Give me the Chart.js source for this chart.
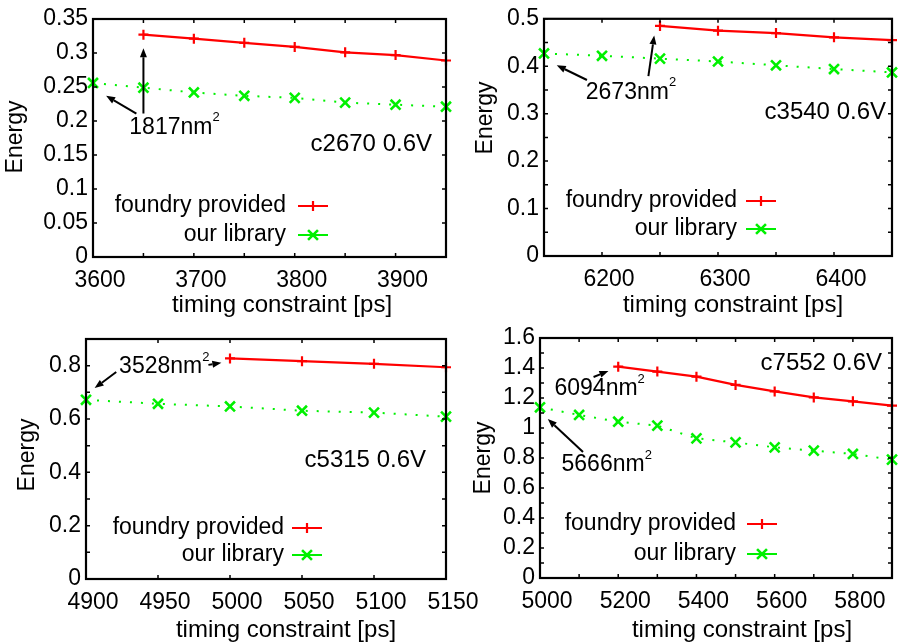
<!DOCTYPE html>
<html>
<head>
<meta charset="utf-8">
<script src="https://cdn.jsdelivr.net/npm/chart.js@4.4.1/dist/chart.umd.min.js"></script>
<style>
  html, body { margin: 0; padding: 0; background: #fff; }
  #wrap { position: relative; width: 902px; height: 644px; overflow: hidden; }
  canvas { position: absolute; left: 0; top: 0; }
</style>
</head>
<body>
<div id="wrap">
  <canvas id="c2670" width="902" height="644"></canvas>
  <canvas id="c3540" width="902" height="644"></canvas>
  <canvas id="c5315" width="902" height="644"></canvas>
  <canvas id="c7552" width="902" height="644"></canvas>
</div>
<script>
const FONT = '"Liberation Sans", Arial, Helvetica, sans-serif';
const RED = '#ff0000';
const GREEN = '#00f000';

const seriesNames = ['foundry provided', 'our library'];

// c2670
const c2670Time = [3600, 3650, 3700, 3750, 3800, 3850, 3900, 3950];
const c2670Foundry = [null, 0.327, 0.321, 0.315, 0.309, 0.301, 0.297, 0.289];
const c2670Ours = [0.256, 0.249, 0.242, 0.237, 0.234, 0.227, 0.224, 0.221];

// c3540
const c3540Time = [6150, 6200, 6250, 6300, 6350, 6400, 6450];
const c3540Foundry = [null, null, 0.485, 0.475, 0.470, 0.461, 0.455];
const c3540Ours = [0.427, 0.422, 0.416, 0.410, 0.402, 0.394, 0.387];

// c5315
const c5315Time = [4900, 4950, 5000, 5050, 5100, 5150];
const c5315Foundry = [null, null, 0.827, 0.817, 0.807, 0.794];
const c5315Ours = [0.672, 0.657, 0.647, 0.631, 0.624, 0.609];

// c7552
const c7552Time = [5000, 5100, 5200, 5300, 5400, 5500, 5600, 5700, 5800, 5900];
const c7552Foundry = [null, null, 1.409, 1.376, 1.342, 1.287, 1.244, 1.204, 1.178, 1.149];
const c7552Ours = [1.138, 1.087, 1.042, 1.016, 0.931, 0.904, 0.871, 0.849, 0.827, 0.789];

const panels = [
  { id: 'c2670', label: 'c2670 0.6V', time: c2670Time, foundry: c2670Foundry, ours: c2670Ours,
    origin: [0, 0], area: [93, 19, 446, 257],
    x: { min: 3600, max: 3950, step: 50, every: 100 }, y: { max: 0.35, step: 0.05, every: 0.05 },
    labelPos: [432, 144], legend: { right: 286, rows: [206, 235], line: [298, 328] },
    xTitle: [282, 305], yTitle: [16, 137],
    notes: [{ x: 3636, y: 0.190, text: '1817nm' }],
    arrows: [{ from: [3650, 0.211], to: [3650, 0.307] }, { from: [3643, 0.211], to: [3613, 0.237] }] },
  { id: 'c3540', label: 'c3540 0.6V', time: c3540Time, foundry: c3540Foundry, ours: c3540Ours,
    origin: [451, 0], area: [93, 16, 446, 256],
    x: { min: 6150, max: 6450, step: 50, every: 100 }, y: { max: 0.5, step: 0.05, every: 0.1 },
    labelPos: [435, 112], legend: { right: 286, rows: [201, 229], line: [295, 325] },
    xTitle: [282, 305], yTitle: [35, 118],
    notes: [{ x: 6186, y: 0.344, text: '2673nm' }],
    arrows: [{ from: [6187, 0.371], to: [6161, 0.402] }, { from: [6240, 0.379], to: [6245, 0.465] }] },
  { id: 'c5315', label: 'c5315 0.6V', time: c5315Time, foundry: c5315Foundry, ours: c5315Ours,
    origin: [0, 322], area: [86, 17, 446, 257],
    x: { min: 4900, max: 5150, step: 50, every: 50 }, y: { max: 0.9, step: 0.1, every: 0.2 },
    labelPos: [426, 138], legend: { right: 284, rows: [206, 233], line: [292, 322] },
    xTitle: [286, 308], yTitle: [28, 133],
    notes: [{ x: 4923, y: 0.795, text: '3528nm' }],
    arrows: [{ from: [4921, 0.776], to: [4906, 0.716] }, { from: [4985, 0.803], to: [4994, 0.811] }] },
  { id: 'c7552', label: 'c7552 0.6V', time: c7552Time, foundry: c7552Foundry, ours: c7552Ours,
    origin: [451, 322], area: [89, 16, 450, 256],
    x: { min: 5000, max: 5900, step: 100, every: 200 }, y: { max: 1.6, step: 0.1, every: 0.2 },
    labelPos: [431, 41], legend: { right: 285, rows: [202, 232], line: [296, 326] },
    xTitle: [291, 308], yTitle: [33, 136],
    notes: [{ x: 5037, y: 1.26, text: '6094nm' }, { x: 5055, y: 0.753, text: '5666nm' }],
    arrows: [{ from: [5137, 1.34], to: [5175, 1.38] }, { from: [5110, 0.84], to: [5020, 1.06] }] }
];

function toPoints(xs, ys) {
  return xs.map((x, i) => ({ x: x, y: ys[i] })).filter(pt => pt.y !== null);
}

function isMultiple(v, step) {
  const k = v / step;
  return Math.abs(k - Math.round(k)) < 1e-6;
}

function drawMarker(ctx, style, x, y, r) {
  ctx.beginPath();
  if (style === 'cross') {
    ctx.moveTo(x - r, y); ctx.lineTo(x + r, y);
    ctx.moveTo(x, y - r); ctx.lineTo(x, y + r);
  } else {
    const d = r * Math.SQRT1_2;
    ctx.moveTo(x - d, y - d); ctx.lineTo(x + d, y + d);
    ctx.moveTo(x - d, y + d); ctx.lineTo(x + d, y - d);
  }
  ctx.stroke();
}

function drawArrow(ctx, x1, y1, x2, y2) {
  const ang = Math.atan2(y2 - y1, x2 - x1);
  const len = 9, half = 3.5;
  const bx = x2 - len * Math.cos(ang), by = y2 - len * Math.sin(ang);
  ctx.beginPath();
  ctx.moveTo(x1, y1);
  ctx.lineTo(bx, by);
  ctx.stroke();
  ctx.beginPath();
  ctx.moveTo(x2, y2);
  ctx.lineTo(bx + half * Math.sin(ang), by - half * Math.cos(ang));
  ctx.lineTo(bx - half * Math.sin(ang), by + half * Math.cos(ang));
  ctx.closePath();
  ctx.fill();
}

function decor(p) {
  return {
    id: 'decor',
    afterDraw(chart) {
      const ctx = chart.ctx;
      const { left, top, right, bottom } = chart.chartArea;
      const xs = chart.scales.x, ys = chart.scales.y;
      const [ox, oy] = p.origin;
      ctx.save();

      // inward tics on all four sides
      ctx.strokeStyle = '#000';
      ctx.lineWidth = 1.5;
      ctx.beginPath();
      xs.ticks.forEach(t => {
        const px = xs.getPixelForValue(t.value);
        ctx.moveTo(px, bottom); ctx.lineTo(px, bottom - 4);
        ctx.moveTo(px, top); ctx.lineTo(px, top + 4);
      });
      ys.ticks.forEach(t => {
        const py = ys.getPixelForValue(t.value);
        ctx.moveTo(left, py); ctx.lineTo(left + 4, py);
        ctx.moveTo(right, py); ctx.lineTo(right - 4, py);
      });
      ctx.stroke();

      // frame
      ctx.lineWidth = 2.2;
      ctx.strokeRect(left, top, right - left, bottom - top);

      ctx.fillStyle = '#000';
      ctx.textBaseline = 'middle';

      // axis titles
      ctx.textAlign = 'center';
      ctx.font = '24px ' + FONT;
      ctx.fillText('timing constraint [ps]', ox + p.xTitle[0], oy + p.xTitle[1]);
      ctx.font = '23px ' + FONT;
      ctx.save();
      ctx.translate(ox + p.yTitle[0], oy + p.yTitle[1]);
      ctx.rotate(-Math.PI / 2);
      ctx.fillText('Energy', 0, 0);
      ctx.restore();

      // circuit label
      ctx.font = '24px ' + FONT;
      ctx.textAlign = 'right';
      ctx.fillText(p.label, ox + p.labelPos[0], oy + p.labelPos[1]);

      // legend (text left of the sample, gnuplot style)
      ctx.font = '23px ' + FONT;
      chart.data.datasets.forEach((ds, i) => {
        const y = oy + p.legend.rows[i];
        ctx.fillStyle = '#000';
        ctx.textAlign = 'right';
        ctx.fillText(ds.label, ox + p.legend.right, y);
        const x1 = ox + p.legend.line[0], x2 = ox + p.legend.line[1];
        ctx.strokeStyle = ds.borderColor;
        ctx.lineWidth = 2;
        ctx.beginPath(); ctx.moveTo(x1, y); ctx.lineTo(x2, y); ctx.stroke();
        ctx.lineWidth = ds.pointBorderWidth;
        drawMarker(ctx, ds.pointStyle, (x1 + x2) / 2, y, ds.pointRadius);
      });

      // area notes
      ctx.fillStyle = '#000';
      ctx.textAlign = 'left';
      p.notes.forEach(n => {
        const nx = xs.getPixelForValue(n.x), ny = ys.getPixelForValue(n.y);
        ctx.font = '23px ' + FONT;
        ctx.fillText(n.text, nx, ny);
        const w = ctx.measureText(n.text).width;
        ctx.font = '13px ' + FONT;
        ctx.fillText('2', nx + w, ny - 10);
      });

      // arrows
      ctx.strokeStyle = '#000';
      ctx.lineWidth = 2;
      p.arrows.forEach(a => {
        drawArrow(ctx,
          xs.getPixelForValue(a.from[0]), ys.getPixelForValue(a.from[1]),
          xs.getPixelForValue(a.to[0]), ys.getPixelForValue(a.to[1]));
      });
      ctx.restore();
    }
  };
}

function makePanel(p) {
  const [ox, oy] = p.origin;
  const [l, t, r, b] = p.area;
  const YW = 70, XH = 40;
  const tickFont = { family: FONT, size: 23 };
  return new Chart(document.getElementById(p.id), {
    type: 'line',
    data: {
      datasets: [
        { label: seriesNames[0], data: toPoints(p.time, p.foundry),
          borderColor: RED, backgroundColor: RED, borderWidth: 2.2,
          pointStyle: 'cross', pointRadius: 5, pointBorderWidth: 2.2, pointBorderColor: RED,
          clip: false },
        { label: seriesNames[1], data: toPoints(p.time, p.ours),
          borderColor: GREEN, backgroundColor: GREEN, borderWidth: 2, borderDash: [2, 9],
          pointStyle: 'crossRot', pointRadius: 7, pointBorderWidth: 2.6, pointBorderColor: GREEN,
          clip: false }
      ]
    },
    options: {
      responsive: false,
      animation: false,
      devicePixelRatio: 1,
      events: [],
      layout: {
        autoPadding: false,
        padding: { left: ox + l - YW, top: oy + t, right: 902 - ox - r, bottom: 644 - oy - b - XH }
      },
      plugins: { legend: { display: false }, tooltip: { enabled: false } },
      scales: {
        x: {
          type: 'linear', min: p.x.min, max: p.x.max,
          afterFit: s => { s.height = XH; },
          grid: { display: false, drawTicks: false },
          border: { display: false },
          ticks: {
            stepSize: p.x.step, autoSkip: false, maxRotation: 0, padding: 10, labelOffset: 7,
            font: tickFont, color: '#000',
            callback: v => isMultiple(v, p.x.every) ? String(Math.round(v)) : ''
          }
        },
        y: {
          min: 0, max: p.y.max,
          afterFit: s => { s.width = YW; },
          grid: { display: false, drawTicks: false },
          border: { display: false },
          ticks: {
            stepSize: p.y.step, autoSkip: false, padding: 5,
            font: tickFont, color: '#000',
            callback: v => isMultiple(v, p.y.every) ? String(parseFloat(v.toFixed(3))) : ''
          }
        }
      }
    },
    plugins: [decor(p)]
  });
}

panels.forEach(makePanel);
</script>
</body>
</html>
